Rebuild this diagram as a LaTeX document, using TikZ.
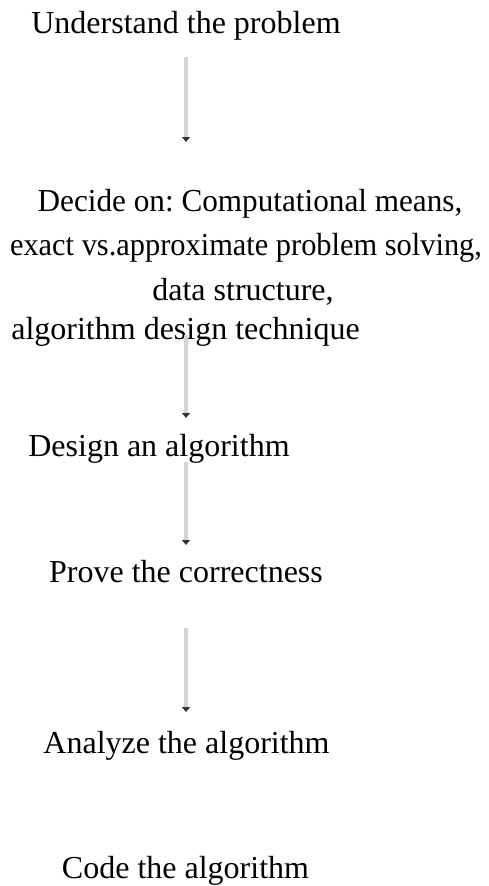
\documentclass[tikz,border=0pt]{standalone}
\usepackage{fontspec}
\usepackage{graphicx}
\setmainfont{Liberation Serif}
\usetikzlibrary{arrows.meta}
\frenchspacing
\begin{document}
\begin{tikzpicture}[x=1pt,y=1pt,
  lbl/.style={anchor=base, inner sep=0pt, font=\fontsize{32}{44}\selectfont},
  flow/.style={draw=black!17, line width=4pt, -{Triangle[length=5pt,width=8pt,color=black!80]}}]
\useasboundingbox (0,0) rectangle (489,-886);
\node[lbl] (under) at (186,-33) {Understand the problem};
\node[lbl] (decide1) at (250,-211) {\scalebox{0.975}[1]{Decide on: Computational means,}};
\node[lbl] (decide2) at (246,-255) {\scalebox{0.95}[1]{exact vs.approximate problem solving,}};
\node[lbl] (decide3) at (243,-300) {data structure,};
\node[lbl] (decide4) at (185.5,-339) {algorithm design technique};
\node[lbl] (design) at (159,-456) {Design an algorithm};
\node[lbl] (prove) at (186,-582) {Prove the correctness};
\node[lbl] (analyze) at (186.5,-753) {Analyze the algorithm};
\node[lbl] (code) at (185.5,-878) {Code the algorithm};
\coordinate (a1s) at (186,-57);  \coordinate (a1e) at (186,-142);
\coordinate (a2s) at (186,-335); \coordinate (a2e) at (186,-418);
\coordinate (a3s) at (186,-462); \coordinate (a3e) at (186,-545);
\coordinate (a4s) at (186,-628); \coordinate (a4e) at (186,-712);
\draw[flow] (a1s) -- (a1e);
\draw[flow] (a2s) -- (a2e);
\draw[flow] (a3s) -- (a3e);
\draw[flow] (a4s) -- (a4e);
\end{tikzpicture}
\end{document}
